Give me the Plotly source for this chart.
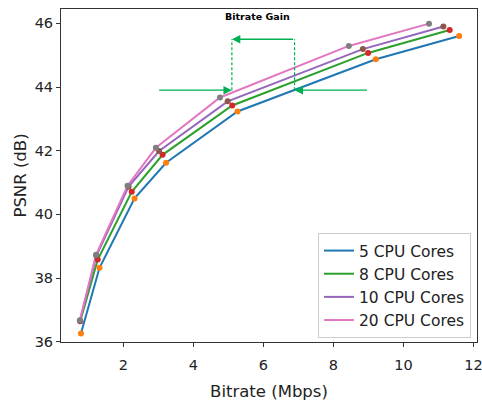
import plotly.graph_objects as go

series_names = ["5 CPU Cores", "8 CPU Cores", "10 CPU Cores", "20 CPU Cores"]
line_colors = ["#1f77b4", "#2ca02c", "#9467bd", "#e377c2"]
marker_colors = ["#ff7f0e", "#d62728", "#8c564b", "#7f7f7f"]

bitrate_5 = [0.79, 1.32, 2.32, 3.22, 5.26, 9.21, 11.59]
psnr_5 = [36.26, 38.32, 40.50, 41.62, 43.23, 44.87, 45.60]

bitrate_8 = [0.77, 1.27, 2.24, 3.12, 5.11, 8.99, 11.32]
psnr_8 = [36.64, 38.58, 40.71, 41.87, 43.42, 45.07, 45.79]

bitrate_10 = [0.76, 1.23, 2.15, 3.02, 4.98, 8.84, 11.14]
psnr_10 = [36.66, 38.70, 40.87, 41.99, 43.55, 45.19, 45.90]

bitrate_20 = [0.76, 1.22, 2.12, 2.93, 4.76, 8.44, 10.73]
psnr_20 = [36.67, 38.73, 40.90, 42.09, 43.67, 45.29, 45.99]

xs = [bitrate_5, bitrate_8, bitrate_10, bitrate_20]
ys = [psnr_5, psnr_8, psnr_10, psnr_20]

x_ticks = [2, 4, 6, 8, 10, 12]
y_ticks = [36, 38, 40, 42, 44, 46]

# Bitrate gain annotation geometry (data units)
gain_y_low = 43.9
gain_y_high = 45.5
gain_x_left = 5.1
gain_x_right = 6.89
gain_x_start = 2.98
gain_x_end = 9.0
arrow_color = "#00B050"

fig = go.Figure()

for i in range(4):
    fig.add_trace(go.Scatter(
        x=xs[i], y=ys[i], mode="lines", name=series_names[i],
        line=dict(color=line_colors[i], width=2),
        legendgroup=str(i),
    ))
for i in range(4):
    fig.add_trace(go.Scatter(
        x=xs[i], y=ys[i], mode="markers", showlegend=False,
        marker=dict(color=marker_colors[i], size=6),
        hoverinfo="skip",
    ))

# dashed verticals
fig.add_shape(type="line", xref="x", yref="y", x0=gain_x_left, x1=gain_x_left,
              y0=gain_y_low, y1=gain_y_high, line=dict(color=arrow_color, width=1.2, dash="3px,2px"))
fig.add_shape(type="line", xref="x", yref="y", x0=gain_x_right, x1=gain_x_right,
              y0=gain_y_low, y1=gain_y_high, line=dict(color=arrow_color, width=1.2, dash="3px,2px"))

arrows = [
    (gain_x_left, gain_y_low, gain_x_start, gain_y_low),
    (gain_x_right, gain_y_low, gain_x_end, gain_y_low),
    (gain_x_left, gain_y_high, gain_x_right, gain_y_high),
]
for (hx, hy, tx, ty) in arrows:
    fig.add_annotation(x=hx, y=hy, ax=tx, ay=ty, xref="x", yref="y", axref="x", ayref="y",
                       text="", showarrow=True, arrowhead=2, arrowsize=1.3, arrowwidth=1.3,
                       arrowcolor=arrow_color, standoff=0)

fig.add_annotation(x=5.82, y=46.21, xref="x", yref="y", text="<b>Bitrate Gain</b>",
                   showarrow=False, font=dict(family="DejaVu Sans", size=9.5, color="black"))

axis_common = dict(
    showline=True, mirror=True, linecolor="#333333", linewidth=1,
    ticks="outside", ticklen=4, tickcolor="#333333", showgrid=False, zeroline=False,
    tickfont=dict(size=14.5, color="#222222"), ticklabeloverflow="allow",
    automargin=False,
)

fig.update_layout(
    width=482, height=402,
    margin=dict(l=61, r=5, t=9, b=60),
    paper_bgcolor="white", plot_bgcolor="white",
    font=dict(family="DejaVu Sans", color="#222222"),
    xaxis=dict(range=[0.22, 12.1], tickvals=x_ticks, ticklabelstandoff=6,
               title=dict(text="Bitrate (Mbps)", font=dict(size=16.5), standoff=13), **axis_common),
    yaxis=dict(range=[35.99, 46.45], tickvals=y_ticks,
               title=dict(text="PSNR (dB)", font=dict(size=16.5), standoff=3), **axis_common),
    legend=dict(x=0.9856, y=0.012, xanchor="right", yanchor="bottom",
                bgcolor="white", bordercolor="#cccccc", borderwidth=1,
                font=dict(size=15.5, color="#222222"), tracegroupgap=0,
                traceorder="grouped"),
    showlegend=True,
)

fig.write_html("out.html")
